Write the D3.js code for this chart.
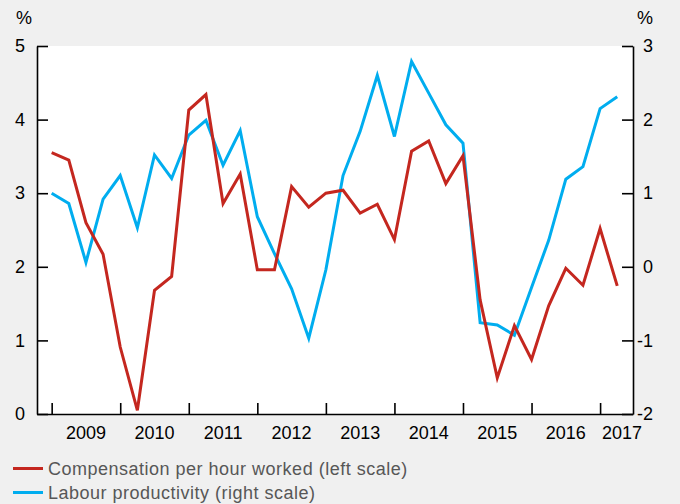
<!DOCTYPE html>
<html>
<head>
<meta charset="utf-8">
<script src="https://cdn.jsdelivr.net/npm/d3@7"></script>
<style>
  body { margin: 0; background: #f0f0f0; }
  svg { display: block; font-family: "Liberation Sans", Arial, sans-serif; }
</style>
</head>
<body>
<div id="chart"></div>
<script>
// quarterly data, 2009 Q1 .. 2017 Q2
const startYear = 2009;
const years = [2009, 2010, 2011, 2012, 2013, 2014, 2015, 2016, 2017];
const leftTicks = [0, 1, 2, 3, 4, 5];
const rightTicks = [-2, -1, 0, 1, 2, 3];

// Compensation per hour worked (left scale)
const compensation = [
  3.55, 3.45, 2.6, 2.17, 0.91, 0.05, 1.68, 1.87,
  4.13, 4.34, 2.86, 3.26, 1.96, 1.96, 3.09, 2.81,
  3.0, 3.04, 2.73, 2.85, 2.37, 3.57, 3.71, 3.13,
  3.51, 1.55, 0.49, 1.2, 0.74, 1.47, 1.98, 1.75,
  2.52, 1.74
];

// Labour productivity (right scale)
const productivity = [
  1.0, 0.86, 0.06, 0.92, 1.24, 0.53, 1.52, 1.2,
  1.79, 1.99, 1.38, 1.85, 0.68, 0.18, -0.3, -0.97,
  -0.04, 1.24, 1.84, 2.6, 1.77, 2.79, 2.36, 1.93,
  1.68, -0.76, -0.79, -0.93, -0.28, 0.36, 1.19, 1.36,
  2.15, 2.31
];

const seriesNames = [
  "Compensation per hour worked (left scale)",
  "Labour productivity (right scale)"
];

const width = 680;
const height = 504;
const margin = {top: 46, right: 47, bottom: 90, left: 37};
const red = "#c4271f";
const blue = "#00adef";
const fontSize = 18;

const svg = d3.select("#chart").append("svg")
  .attr("width", width)
  .attr("height", height);

svg.append("rect")
  .attr("width", width)
  .attr("height", height)
  .attr("fill", "#f0f0f0");

const x = d3.scaleLinear()
  .domain([2008.786, 2017.48])
  .range([margin.left, width - margin.right]);

const yL = d3.scaleLinear()
  .domain([0, 5])
  .range([height - margin.bottom, margin.top]);

const yR = d3.scaleLinear()
  .domain([-2, 3])
  .range([height - margin.bottom, margin.top]);

const t = i => startYear + i / 4;

svg.append("rect")
  .attr("x", margin.left)
  .attr("y", margin.top)
  .attr("width", width - margin.left - margin.right)
  .attr("height", height - margin.top - margin.bottom)
  .attr("fill", "#fff");

// lines
svg.append("path")
  .datum(productivity)
  .attr("fill", "none")
  .attr("stroke", blue)
  .attr("stroke-width", 3)
  .attr("d", d3.line().x((d, i) => x(t(i))).y(d => yR(d)));

svg.append("path")
  .datum(compensation)
  .attr("fill", "none")
  .attr("stroke", red)
  .attr("stroke-width", 3)
  .attr("d", d3.line().x((d, i) => x(t(i))).y(d => yL(d)));

// axes, ticks pointing inward
const axisStyle = g => {
  g.attr("font-family", null);
  g.select(".domain").attr("stroke", "#000").attr("stroke-width", 1.6);
  g.selectAll(".tick line").attr("stroke", "#000").attr("stroke-width", 1.6);
  g.selectAll(".tick text").attr("fill", "#000").attr("font-size", fontSize);
};

svg.append("g")
  .attr("transform", `translate(${margin.left},0)`)
  .call(d3.axisLeft(yL).tickValues(leftTicks).tickFormat(d => String(d))
    .tickSizeInner(-11).tickSizeOuter(0).tickPadding(12))
  .call(axisStyle);

svg.append("g")
  .attr("transform", `translate(${width - margin.right},0)`)
  .call(d3.axisRight(yR).tickValues(rightTicks).tickFormat(d => String(d))
    .tickSizeInner(-11).tickSizeOuter(0).tickPadding(0))
  .call(axisStyle)
  .call(g => g.selectAll(".tick text").attr("text-anchor", "end").attr("x", 20));

svg.append("g")
  .attr("transform", `translate(0,${height - margin.bottom})`)
  .call(d3.axisBottom(x).tickValues(years).tickSizeInner(-11).tickSizeOuter(0).tickFormat(""))
  .call(axisStyle);

// year labels centred between ticks
const lastYear = years[years.length - 1];
svg.append("g")
  .selectAll("text")
  .data(years)
  .join("text")
  .attr("x", d => d === lastYear ? x.range()[1] + 9 : x(d + 0.5))
  .attr("y", height - margin.bottom + 25)
  .attr("text-anchor", d => d === lastYear ? "end" : "middle")
  .attr("font-size", fontSize)
  .attr("fill", "#000")
  .text(d => d);

// unit labels
svg.append("text")
  .attr("x", 24).attr("y", 24)
  .attr("text-anchor", "middle")
  .attr("font-size", fontSize)
  .text("%");
svg.append("text")
  .attr("x", 645).attr("y", 24)
  .attr("text-anchor", "middle")
  .attr("font-size", fontSize)
  .text("%");

// legend
const legend = svg.append("g")
  .selectAll("g")
  .data(seriesNames)
  .join("g")
  .attr("transform", (d, i) => `translate(13,${468.5 + i * 24})`);

legend.append("line")
  .attr("x1", 0).attr("x2", 30)
  .attr("stroke", (d, i) => i === 0 ? red : blue)
  .attr("stroke-width", 3);

legend.append("text")
  .attr("x", 35)
  .attr("y", 6)
  .attr("font-size", fontSize)
  .attr("letter-spacing", 0.5)
  .attr("fill", "#575757")
  .text(d => d);
</script>
</body>
</html>
